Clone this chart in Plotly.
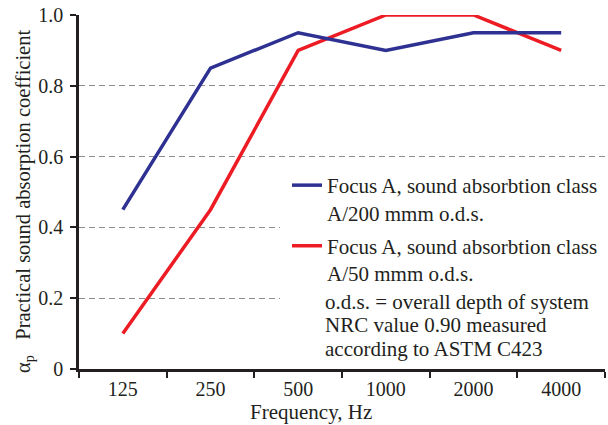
import plotly.graph_objects as go

frequencies = ["125", "250", "500", "1000", "2000", "4000"]
alpha_200 = [0.45, 0.85, 0.95, 0.90, 0.95, 0.95]
alpha_50 = [0.10, 0.45, 0.90, 1.00, 1.00, 0.90]
y_tick_vals = [0, 0.2, 0.4, 0.6, 0.8, 1.0]
y_tick_text = ["0", "0.2", "0.4", "0.6", "0.8", "1.0"]
name_200 = "Focus A, sound absorbtion class<br>A/200 mmm o.d.s."
name_50 = "Focus A, sound absorbtion class<br>A/50 mmm o.d.s."
note_lines = ["o.d.s. = overall depth of system", "NRC value 0.90 measured", "according to ASTM C423"]
y_title = "α<sub>p</sub>   Practical sound absorption coefficient"
x_title = "Frequency, Hz"

FONT = "Liberation Serif"
FS = 21
TXT = "#231F20"
BLUE = "#2E3192"
RED = "#ED1C24"

fig = go.Figure()
fig.add_trace(go.Scatter(x=frequencies, y=alpha_50, mode="lines", name=name_50,
                         line=dict(color=RED, width=3.5), cliponaxis=False,
                         legendrank=2, legendgroup="b"))
fig.add_trace(go.Scatter(x=frequencies, y=alpha_200, mode="lines", name=name_200,
                         line=dict(color=BLUE, width=3.5), cliponaxis=False,
                         legendrank=1, legendgroup="a"))

L, R, T, B = 79, 3, 15, 56
W, H = 608, 425
ph = H - T - B
pw = W - L - R

def px_x(x):
    return (x - L) / pw

def px_y(y):
    return (H - B - y) / ph

fig.add_shape(type="rect", xref="paper", yref="paper",
              x0=px_x(280), x1=1.0, y0=px_y(366), y1=px_y(171),
              fillcolor="white", line=dict(width=0), layer="above")

for line_text, yc in zip(note_lines, [302, 325, 349]):
    fig.add_annotation(text=line_text, xref="paper", yref="paper",
                       x=px_x(323), y=px_y(yc), xanchor="left", yanchor="middle",
                       align="left", showarrow=False,
                       font=dict(family=FONT, size=FS, color=TXT))
fig.add_annotation(text=x_title, xref="paper", yref="paper",
                   x=px_x(311), y=px_y(412), xanchor="center", yanchor="middle",
                   showarrow=False, font=dict(family=FONT, size=FS, color=TXT))
fig.add_annotation(text=y_title, xref="paper", yref="paper", textangle=-90,
                   x=px_x(24), y=px_y(202), xanchor="center", yanchor="middle",
                   showarrow=False, font=dict(family=FONT, size=20.5, color=TXT))

fig.update_layout(
    width=W, height=H,
    margin=dict(l=L, r=R, t=T, b=B, autoexpand=False),
    paper_bgcolor="white", plot_bgcolor="white",
    font=dict(family=FONT, size=FS, color=TXT),
    showlegend=True,
    legend=dict(x=px_x(287), y=px_y(165), xanchor="left", yanchor="top",
                bgcolor="rgba(0,0,0,0)", font=dict(family=FONT, size=FS, color=TXT),
                tracegroupgap=3, itemwidth=30, valign="top"),
    xaxis=dict(type="category", range=[-0.5, 5.5], tickson="boundaries",
               ticks="outside", ticklen=6, tickwidth=2, tickcolor=TXT,
               showline=True, linecolor=TXT, linewidth=2.5, showgrid=False,
               automargin=False,
               tickfont=dict(family=FONT, size=20, color=TXT)),
    yaxis=dict(range=[0, 1.0], tickvals=y_tick_vals, ticktext=y_tick_text,
               ticks="outside", ticklen=6, tickwidth=2, tickcolor=TXT,
               showline=True, linecolor=TXT, linewidth=2.5, zeroline=False,
               showgrid=True, gridcolor="#8C8C8C", gridwidth=1.3, griddash="6px,4px",
               automargin=False, ticklabelstandoff=3,
               tickfont=dict(family=FONT, size=20, color=TXT)),
)

fig.write_html("out.html", config={"displayModeBar": False},
               post_script="document.body.style.margin='0px';document.body.style.overflow='hidden';")
